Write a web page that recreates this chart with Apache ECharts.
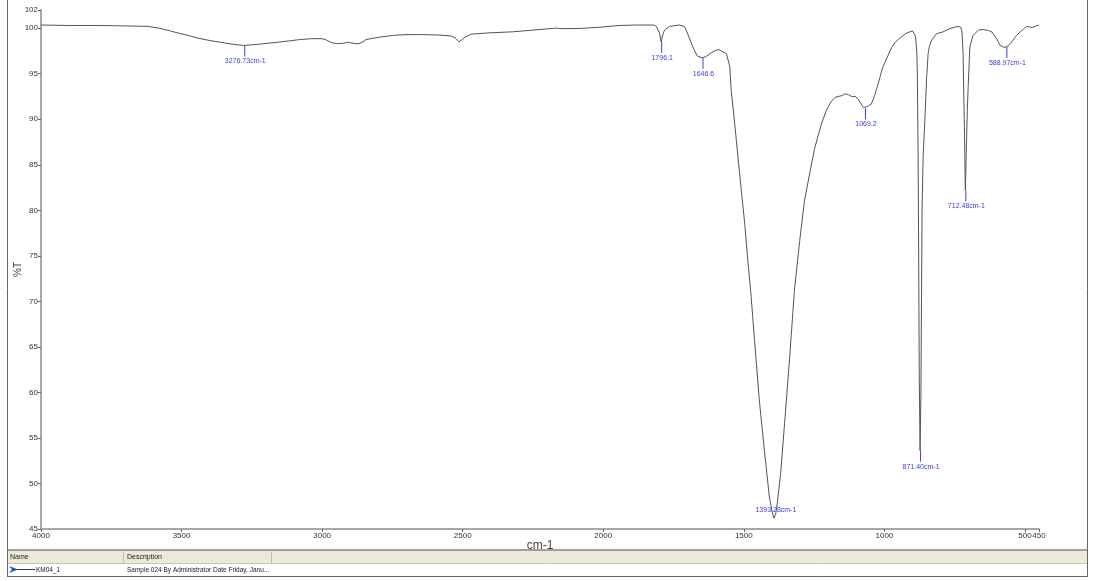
<!DOCTYPE html>
<html>
<head>
<meta charset="utf-8">
<script src="https://cdn.jsdelivr.net/npm/echarts@6/dist/echarts.min.js"></script>
<style>
html,body{margin:0;padding:0;background:#fff;}
#chart{width:1093px;height:581px;}
</style>
</head>
<body>
<div id="chart"></div>
<script>
// Wavenumber (cm-1) and transmittance (%T)
const wavenumbers = [4000,3900,3800,3700,3620,3580,3540,3510,3470,3440,3400,3370,3320,3279,3240,3208,3160,3119,3080,3037,3000,2985,2966,2945,2923,2910,2898,2880,2869,2855,2844,2800,2750,2702,2650,2584,2542,2525,2513,2500,2492,2470,2400,2324,2228,2171,2166,2162,2150,2086,2015,1944,1880,1819,1811,1800,1794,1788,1782,1764,1729,1712,1705,1687,1675,1664,1647,1634,1616,1598,1588,1580,1562,1550,1545,1533,1521,1509,1497,1487,1476,1462,1445,1427,1409,1400,1393,1387,1381,1369,1355,1337,1320,1301,1284,1266,1248,1224,1206,1190,1176,1165,1159,1150,1140,1135,1128,1123,1116,1112,1104,1095,1085,1075,1069,1060,1046,1035,1024,1006,990,974,960,945,925,910,900,894,890,888,885,883,880,878,876,873,870,868,866,862,856,852,851,850,848,844.5,840,832,814,791,767,750,738,728,724,720,716,714,712,709,705,702,696,685,665,649,630,618,600,588,575,566,555,542,530,517,505,493,480,471,460,450];
const transmittance = [100.35,100.3,100.3,100.25,100.2,100.0,99.7,99.45,99.15,98.9,98.65,98.5,98.25,98.1,98.2,98.3,98.45,98.6,98.75,98.85,98.85,98.7,98.4,98.3,98.35,98.45,98.4,98.3,98.3,98.5,98.75,99.0,99.2,99.3,99.3,99.25,99.15,98.9,98.5,98.8,99.0,99.35,99.5,99.6,99.85,100.0,100.15,100.0,99.95,99.97,100.1,100.3,100.35,100.35,100.2,99.5,98.5,99.3,99.8,100.2,100.35,100.2,99.8,98.4,97.5,96.9,96.75,96.9,97.3,97.6,97.65,97.5,97.2,95.8,93.2,89.7,85.9,82.2,78.6,74.9,71.3,65.8,59.2,53.7,48.5,47.0,46.2,46.6,47.8,51.1,56.6,63.8,71.2,76.7,81.1,84.0,86.8,89.5,91.0,91.9,92.4,92.5,92.3,92.6,92.8,93.0,92.7,92.8,92.5,92.6,92.5,92.3,91.8,91.3,91.2,91.4,91.7,92.6,93.7,95.7,96.8,97.9,98.5,98.9,99.4,99.6,99.7,99.6,99.2,98.7,97.5,95.4,86.2,75.0,62.0,53.6,60.0,70.0,80.0,86.0,89.9,93.0,93.4,94.6,95.3,97.2,98.0,98.7,99.4,99.6,99.97,100.1,100.2,100.1,99.6,97.2,90.0,86.2,82.2,86.0,91.0,93.5,97.9,99.2,99.8,99.85,99.75,99.6,98.8,98.1,97.9,97.95,98.2,98.7,99.2,99.6,99.9,100.2,100.1,100.1,100.25,100.35];

// Peak picks
const peakPositions = [3277, 1794, 1647, 1393, 1069, 873, 712, 566];
const peakValues = [98.1, 98.5, 96.75, 46.2, 91.2, 53.6, 82.2, 97.95];
const peakLabels = ['3276.73cm-1', '1796.1', '1646.6', '1393.28cm-1', '1069.2', '871.40cm-1', '712.48cm-1', '588.97cm-1'];

// Axis ticks
const xTicks = [4000, 3500, 3000, 2500, 2000, 1500, 1000, 500, 450];
const yTicks = [45, 50, 55, 60, 65, 70, 75, 80, 85, 90, 95, 100, 102];

const spectrum = wavenumbers.map((w, i) => [w, transmittance[i]]);
const peaks = peakPositions.map((w, i) => [w, peakValues[i], peakLabels[i]]);

const chart = echarts.init(document.getElementById('chart'), null, {renderer: 'canvas'});
const FONT = 'Liberation Sans';
const BLUE = '#3a3aff';

const option = {
  animation: false,
  backgroundColor: '#ffffff',
  grid: {left: 41, right: 54, top: 10, bottom: 52, containLabel: false},
  xAxis: {
    type: 'value', inverse: true, min: 450, max: 4000,
    name: 'cm-1', nameLocation: 'middle', nameGap: 11, nameMoveOverlap: false,
    nameTextStyle: {fontFamily: FONT, fontSize: 12, color: '#444'},
    axisLine: {show: true, lineStyle: {color: '#a8a8a8', width: 2}},
    axisTick: {show: true, length: 3, customValues: xTicks, lineStyle: {color: '#666'}},
    axisLabel: {customValues: xTicks, fontFamily: FONT, fontSize: 8, color: '#333', margin: 3,
      formatter: v => String(v)},
    splitLine: {show: false}
  },
  yAxis: {
    type: 'value', min: 45, max: 102,
    name: '%T', nameLocation: 'middle', nameGap: 18, nameRotate: 90, nameMoveOverlap: false,
    nameTextStyle: {fontFamily: FONT, fontSize: 10, color: '#444'},
    axisLine: {show: true, lineStyle: {color: '#a8a8a8', width: 2}},
    axisTick: {show: true, length: 3, customValues: yTicks, lineStyle: {color: '#666'}},
    axisLabel: {customValues: yTicks, fontFamily: FONT, fontSize: 8, color: '#333', margin: 3},
    splitLine: {show: false}
  },
  series: [
    {
      type: 'line', data: spectrum, showSymbol: false, smooth: false,
      lineStyle: {color: '#555555', width: 1}, z: 2
    },
    {
      type: 'custom', data: peaks, z: 3,
      renderItem: function (params, api) {
        const p = api.coord([api.value(0), api.value(1)]);
        const cs = params.coordSys;
        const label = peaks[params.dataIndex][2];
        const nearBottom = p[1] > cs.y + cs.height - 30;
        if (nearBottom) {
          return {type: 'group', children: [
            {type: 'text', style: {x: p[0] + 2, y: p[1] - 8, text: label, fill: BLUE,
              font: '7px ' + FONT, textAlign: 'center', textVerticalAlign: 'middle'}}
          ]};
        }
        return {type: 'group', children: [
          {type: 'line', shape: {x1: p[0] + 0.5, y1: p[1], x2: p[0] + 0.5, y2: p[1] + 11},
            style: {stroke: BLUE, lineWidth: 1}},
          {type: 'text', style: {x: p[0] + 1, y: p[1] + 16, text: label, fill: BLUE,
            font: '7px ' + FONT, textAlign: 'center', textVerticalAlign: 'middle'}}
        ]};
      }
    }
  ],
  graphic: [
    {type: 'line', shape: {x1: 7.5, y1: 0, x2: 7.5, y2: 577}, style: {stroke: '#666', lineWidth: 1}},
    {type: 'line', shape: {x1: 1087.5, y1: 0, x2: 1087.5, y2: 577}, style: {stroke: '#666', lineWidth: 1}},
    {type: 'rect', shape: {x: 8, y: 551, width: 1079, height: 12}, style: {fill: '#ece9d8'}},
    {type: 'line', shape: {x1: 8, y1: 550, x2: 1087, y2: 550}, style: {stroke: '#a0a0a0', lineWidth: 2}},
    {type: 'line', shape: {x1: 8, y1: 563.5, x2: 1087, y2: 563.5}, style: {stroke: '#c8c5b4', lineWidth: 1}},
    {type: 'line', shape: {x1: 123.5, y1: 552, x2: 123.5, y2: 563}, style: {stroke: '#c0bdac', lineWidth: 1}},
    {type: 'line', shape: {x1: 271.5, y1: 552, x2: 271.5, y2: 563}, style: {stroke: '#c0bdac', lineWidth: 1}},
    {type: 'line', shape: {x1: 8, y1: 576.5, x2: 1087, y2: 576.5}, style: {stroke: '#666', lineWidth: 1}},
    {type: 'text', style: {x: 10, y: 557.5, text: 'Name', font: '7px ' + FONT, fill: '#222', textVerticalAlign: 'middle'}},
    {type: 'text', style: {x: 127, y: 557.5, text: 'Description', font: '7px ' + FONT, fill: '#222', textVerticalAlign: 'middle'}},
    {type: 'polygon', shape: {points: [[9, 566], [18, 569.5], [9, 573], [12, 569.5]]}, style: {fill: '#1a4fd6'}},
    {type: 'line', shape: {x1: 17, y1: 569.5, x2: 35, y2: 569.5}, style: {stroke: '#333', lineWidth: 1}},
    {type: 'text', style: {x: 36, y: 570, text: 'KM04_1', font: '6.5px ' + FONT, fill: '#222', textVerticalAlign: 'middle'}},
    {type: 'text', style: {x: 127, y: 570, text: 'Sample 024 By Administrator Date Friday, Janu...', font: '6.5px ' + FONT, fill: '#222', textVerticalAlign: 'middle'}}
  ]
};
chart.setOption(option);
</script>
</body>
</html>
